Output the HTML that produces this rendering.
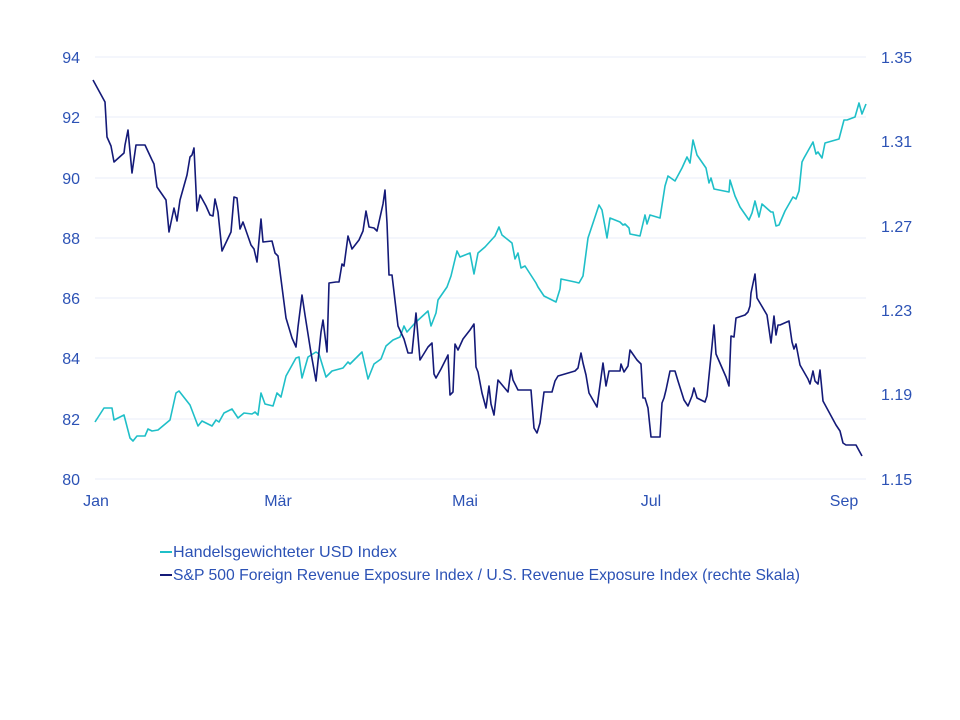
<!DOCTYPE html>
<html><head><meta charset="utf-8"><style>
html,body{margin:0;padding:0;background:#fff;}
svg{display:block;}
text{font-family:"Liberation Sans",sans-serif;fill:#2c52b5;}
</style></head><body>
<svg width="960" height="720" viewBox="0 0 960 720" xmlns="http://www.w3.org/2000/svg">
<g stroke="#e8eef8" stroke-width="1">
<line x1="95" x2="866" y1="57" y2="57"/><line x1="95" x2="866" y1="117" y2="117"/>
<line x1="95" x2="866" y1="178" y2="178"/><line x1="95" x2="866" y1="238" y2="238"/>
<line x1="95" x2="866" y1="298" y2="298"/><line x1="95" x2="866" y1="358" y2="358"/>
<line x1="95" x2="866" y1="419" y2="419"/><line x1="95" x2="866" y1="479" y2="479"/>
</g>
<g font-size="16" text-anchor="end">
<text x="80" y="63">94</text><text x="80" y="123">92</text><text x="80" y="184">90</text>
<text x="80" y="244">88</text><text x="80" y="304">86</text><text x="80" y="364">84</text>
<text x="80" y="425">82</text><text x="80" y="485">80</text>
</g>
<g font-size="16">
<text x="881" y="63">1.35</text><text x="881" y="147">1.31</text><text x="881" y="232">1.27</text>
<text x="881" y="316">1.23</text><text x="881" y="400">1.19</text><text x="881" y="485">1.15</text>
</g>
<g font-size="16" text-anchor="middle">
<text x="96" y="506">Jan</text><text x="278" y="506">Mär</text><text x="465" y="506">Mai</text>
<text x="651" y="506">Jul</text><text x="844" y="506">Sep</text>
</g>
<polyline fill="none" stroke="#1fbfc8" stroke-width="1.6" stroke-linejoin="round" points="95,422 104,408 112,408 114,420 124,415 130,438 133,441 137,436 145,436 148,429 152,431 158,430 170,420 176,393 179,391 190,405 198,426 202,421 212,426 216,420 219,422 224,413 232,409 238,418 244,413 252,414 255,412 258,415 261,393 265,404 273,406 277,393 281,397 286,376 296,358 299,357 302,378 308,357 316,352 319,354 326,377 332,371 343,368 348,362 350,364 357,357 362,352 368,379 374,364 381,359 386,346 393,340 400,337 404,326 407,332 415,323 428,311 431,326 436,313 438,300 447,287 451,276 457,251 460,257 470,253 474,274 478,253 485,247 495,236 499,227 502,235 512,243 515,259 518,253 521,268 525,266 536,283 538,287 544,296 556,302 560,289 561,279 575,282 579,283 583,276 588,238 599,205 602,210 607,238 610,218 620,222 623,225 625,224 629,228 630,234 640,236 645,215 647,224 650,215 660,218 665,186 668,176 675,181 682,168 687,157 690,163 693,140 697,155 706,168 709,183 711,178 714,189 729,192 730,180 735,196 740,207 749,220 752,213 755,201 759,217 762,204 771,212 773,212 776,226 779,225 785,211 793,197 796,199 799,191 802,162 804,158 813,142 816,154 818,152 822,158 825,143 839,139 844,120 847,120 855,117 859,103 862,114 866,104"/>
<polyline fill="none" stroke="#141a78" stroke-width="1.6" stroke-linejoin="round" points="93,80 105,102 107,137 111,146 114,162 124,153 125,145 128,130 132,173 136,145 145,145 152,160 154,164 157,187 166,200 169,232 174,208 177,221 180,200 187,175 190,157 192,155 194,148 197,211 200,195 206,206 210,215 213,216 215,199 218,212 222,251 231,232 234,197 237,198 240,229 243,222 251,245 254,249 257,262 261,219 263,242 272,241 275,253 278,256 286,318 292,338 296,347 298,327 302,295 305,315 311,353 316,381 321,332 323,320 327,352 329,283 336,282 339,282 342,264 344,266 348,236 352,249 359,240 363,231 366,211 369,227 374,228 377,231 383,204 385,190 387,223 389,275 392,275 398,326 404,339 408,353 412,353 416,313 420,360 428,347 432,343 434,374 436,378 441,369 448,355 450,395 453,392 455,344 458,350 463,339 470,330 474,324 476,367 478,372 482,393 486,408 489,386 491,404 494,415 498,380 508,392 511,370 513,380 518,390 528,390 531,390 534,428 537,433 540,423 544,392 552,392 555,381 558,376 575,371 578,368 581,353 583,363 586,375 589,393 597,407 603,363 606,386 609,371 620,371 621,364 624,372 628,366 630,350 637,360 641,364 643,398 645,398 648,408 651,437 660,437 662,403 664,398 666,390 670,371 675,371 678,381 684,400 688,406 692,396 694,388 697,398 705,402 707,396 712,346 714,325 716,354 726,377 729,386 731,336 734,337 736,318 745,315 748,312 750,306 751,293 755,274 757,298 767,315 771,343 774,316 776,335 778,325 780,325 789,321 792,342 794,349 796,344 800,365 808,379 810,384 813,371 815,381 818,384 820,370 823,401 836,425 840,431 843,443 846,445 856,445 862,456"/>
<g font-size="16">
<line x1="160" x2="172" y1="552" y2="552" stroke="#1fbfc8" stroke-width="2"/>
<text x="173" y="557" textLength="224" lengthAdjust="spacingAndGlyphs">Handelsgewichteter USD Index</text>
<line x1="160" x2="172" y1="575" y2="575" stroke="#141a78" stroke-width="2"/>
<text x="173" y="580" textLength="627" lengthAdjust="spacingAndGlyphs">S&amp;P 500 Foreign Revenue Exposure Index / U.S. Revenue Exposure Index (rechte Skala)</text>
</g>
</svg>
</body></html>
